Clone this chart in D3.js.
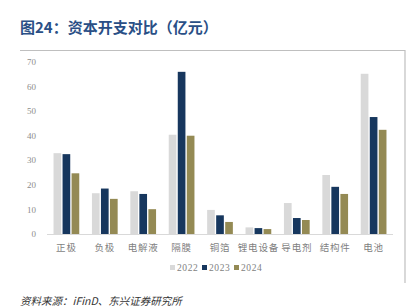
<!DOCTYPE html>
<html>
<head>
<meta charset="utf-8">
<script src="https://cdnjs.cloudflare.com/ajax/libs/d3/7.8.5/d3.min.js"></script>
<style>
  body { margin: 0; background: #fff; }
  svg { display: block; }
</style>
</head>
<body>
<svg id="chart" width="413" height="308"></svg>
<script>
// data
var categories = ["正极", "负极", "电解液", "隔膜", "铜箔", "锂电设备", "导电剂", "结构件", "电池"];
var years = ["2022", "2023", "2024"];
var v2022 = [32.9, 16.6, 17.4, 40.4, 9.8, 2.7, 12.6, 24.0, 65.2];
var v2023 = [32.5, 18.5, 16.3, 66.0, 7.6, 2.4, 6.5, 19.2, 47.6];
var v2024 = [24.7, 14.3, 10.1, 40.0, 4.9, 2.0, 5.7, 16.3, 42.4];
var yTicks = [0, 10, 20, 30, 40, 50, 60, 70];

var series = [v2022, v2023, v2024];
var colors = ["#d9d9d9", "#17375e", "#948a54"];

var svg = d3.select("#chart");

// title
svg.append("text")
    .attr("x", 20).attr("y", 33)
    .attr("font-family", "Noto Sans CJK SC")
    .attr("font-weight", "bold")
    .attr("font-size", 15)
    .attr("fill", "#2a4f86")
    .text("图24：资本开支对比（亿元）");

// frame: top line + right line
svg.append("line")
    .attr("x1", 20).attr("x2", 405).attr("y1", 50.5).attr("y2", 50.5)
    .attr("stroke", "#bfbfbf").attr("stroke-width", 1.2);
svg.append("line")
    .attr("x1", 405).attr("x2", 405).attr("y1", 50).attr("y2", 283)
    .attr("stroke", "#bfbfbf").attr("stroke-width", 1.2);

var x0 = d3.scaleBand().domain(categories).range([47, 393]).paddingInner(0.33).paddingOuter(0.17);
var x1 = d3.scaleBand().domain(years).range([0, x0.bandwidth()]).paddingInner(0.15);
var y = d3.scaleLinear().domain([0, 70]).range([234, 62]);

// y axis labels
svg.selectAll(".ytick")
    .data(yTicks)
  .enter().append("text")
    .attr("x", 36)
    .attr("y", function(d) { return y(d); })
    .attr("dy", "0.35em")
    .attr("text-anchor", "end")
    .attr("font-family", "Liberation Serif")
    .attr("font-size", 9)
    .attr("fill", "#8c8c8c")
    .text(function(d) { return d; });

// bars
var groups = svg.selectAll(".grp")
    .data(categories)
  .enter().append("g")
    .attr("transform", function(d) { return "translate(" + x0(d) + ",0)"; });

groups.selectAll("rect")
    .data(function(d, i) { return series.map(function(s, j) { return { year: years[j], value: s[i], k: j }; }); })
  .enter().append("rect")
    .attr("x", function(d) { return x1(d.year); })
    .attr("y", function(d) { return y(d.value); })
    .attr("width", x1.bandwidth())
    .attr("height", function(d) { return y(0) - y(d.value); })
    .attr("fill", function(d) { return colors[d.k]; });

// baseline
svg.append("line")
    .attr("x1", 47).attr("x2", 393).attr("y1", y(0) + 0.5).attr("y2", y(0) + 0.5)
    .attr("stroke", "#d9d9d9");

// category labels
svg.selectAll(".xlab")
    .data(categories)
  .enter().append("text")
    .attr("x", function(d) { return x0(d) + x0.bandwidth() / 2; })
    .attr("y", 248)
    .attr("dy", "0.35em")
    .attr("text-anchor", "middle")
    .attr("font-family", "Noto Sans CJK SC")
    .attr("font-size", 9.5)
    .attr("letter-spacing", 0.8)
    .attr("fill", "#7f7f7f")
    .text(function(d) { return d; });

// legend
var legendX = [170, 202, 234];
var legend = svg.selectAll(".leg")
    .data(years)
  .enter().append("g")
    .attr("transform", function(d, i) { return "translate(" + legendX[i] + ",268)"; });
legend.append("rect")
    .attr("x", 0).attr("y", -3).attr("width", 5).attr("height", 5)
    .attr("fill", function(d, i) { return colors[i]; });
legend.append("text")
    .attr("x", 7).attr("y", 0)
    .attr("dy", "0.35em")
    .attr("font-family", "Liberation Serif")
    .attr("font-size", 9.5)
    .attr("letter-spacing", 0.6)
    .attr("fill", "#7f7f7f")
    .text(function(d) { return d; });

// source note
svg.append("text")
    .attr("x", 20).attr("y", 305)
    .attr("font-family", "Noto Sans CJK SC")
    .attr("font-style", "italic")
    .attr("font-size", 10.5)
    .attr("fill", "#333")
    .text("资料来源：iFinD、东兴证券研究所");
</script>
</body>
</html>
